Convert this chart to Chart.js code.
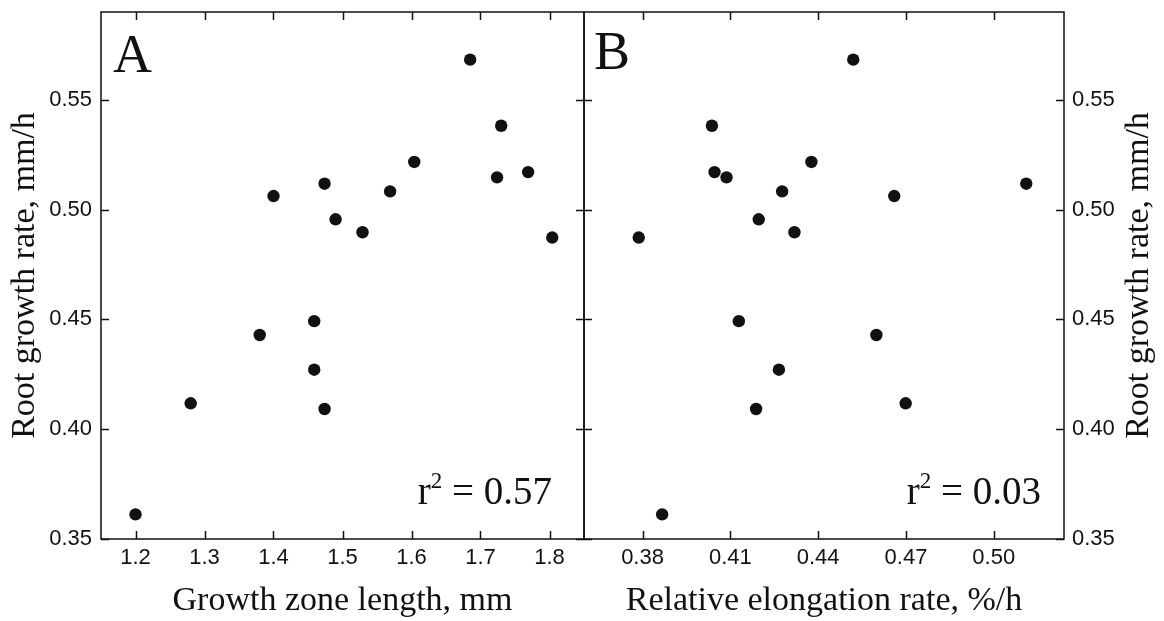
<!DOCTYPE html>
<html>
<head>
<meta charset="utf-8">
<script src="https://cdn.jsdelivr.net/npm/chart.js@4.4.1/dist/chart.umd.min.js"></script>
<style>
  html, body { margin: 0; padding: 0; background: #fff; }
  #wrap { position: relative; width: 1164px; height: 621px; overflow: hidden; }
  #chartA { position: absolute; left: 0; top: 0; }
  #chartB { position: absolute; left: 560px; top: 0; }
</style>
</head>
<body>
<div id="wrap">
  <canvas id="chartA" width="600" height="621"></canvas>
  <canvas id="chartB" width="604" height="621"></canvas>
</div>
<script>
// values, one entry per root (same order in every list)
const rootRate   = [0.5683, 0.5382, 0.5217, 0.5171, 0.5147, 0.5118, 0.5083, 0.5062, 0.4956, 0.4897, 0.4873, 0.4492, 0.4429, 0.4271, 0.4118, 0.4092, 0.3612];
const growthZone = [1.685, 1.730, 1.604, 1.769, 1.724, 1.474, 1.569, 1.400, 1.490, 1.529, 1.804, 1.459, 1.380, 1.459, 1.280, 1.474, 1.200];
const relElong   = [0.4520, 0.4037, 0.4377, 0.4046, 0.4087, 0.5111, 0.4277, 0.4660, 0.4197, 0.4319, 0.3787, 0.4129, 0.4599, 0.4266, 0.4699, 0.4188, 0.3867];

const yTicks  = [0.35, 0.40, 0.45, 0.50, 0.55];
const xTicksA = [1.2, 1.3, 1.4, 1.5, 1.6, 1.7, 1.8];
const xTicksB = [0.38, 0.41, 0.44, 0.47, 0.50];

const r2A = "0.57";
const r2B = "0.03";

const INK = "#111";
const SANS = "'Liberation Sans', Arial, sans-serif";
const SERIF = "'Liberation Serif', 'Times New Roman', serif";
const TICK = 8;

// box around the plot area, inward ticks on all sides, panel letter and r² note
const framePlugin = {
  id: "frame",
  afterDatasetsDraw(chart, args, opts) {
    const { ctx, chartArea: a, scales: { x, y } } = chart;
    ctx.save();
    ctx.strokeStyle = INK;
    ctx.lineWidth = 1.5;
    ctx.strokeRect(a.left, a.top, a.right - a.left, a.bottom - a.top);
    ctx.beginPath();
    x.ticks.forEach(t => {
      const px = Math.round(x.getPixelForValue(t.value)) + 0.5;
      ctx.moveTo(px, a.bottom); ctx.lineTo(px, a.bottom - TICK);
      ctx.moveTo(px, a.top); ctx.lineTo(px, a.top + TICK);
    });
    y.ticks.forEach(t => {
      const py = Math.round(y.getPixelForValue(t.value)) + 0.5;
      ctx.moveTo(a.left, py); ctx.lineTo(a.left + TICK, py);
      ctx.moveTo(a.right, py); ctx.lineTo(a.right - TICK, py);
    });
    ctx.stroke();

    ctx.fillStyle = INK;
    ctx.textBaseline = "alphabetic";
    ctx.textAlign = "left";
    ctx.font = `54px ${SERIF}`;
    ctx.fillText(opts.letter, a.left + opts.letterDx, a.top + opts.letterDy);

    // r² = value, right aligned
    const big = `39px ${SERIF}`, small = `23px ${SERIF}`;
    const rest = " = " + opts.r2;
    ctx.font = big;
    const wR = ctx.measureText("r").width;
    const wRest = ctx.measureText(rest).width;
    ctx.font = small;
    const w2 = ctx.measureText("2").width;
    const xEnd = a.right - opts.r2Dx;
    const base = a.bottom - 35;
    let xs = xEnd - wRest - w2 - wR;
    ctx.font = big;
    ctx.fillText("r", xs, base);
    ctx.font = small;
    ctx.fillText("2", xs + wR, base - 16);
    ctx.font = big;
    ctx.fillText(rest, xs + wR + w2, base);

    if (opts.sideTitle) {
      ctx.font = `34px ${SERIF}`;
      ctx.textAlign = "center";
      ctx.textBaseline = "middle";
      ctx.translate(a.right + opts.sideTitleDx, (a.top + a.bottom) / 2);
      ctx.rotate(-Math.PI / 2);
      ctx.fillText(opts.sideTitle, 0, 0);
    }
    ctx.restore();
  }
};

function points(xs) {
  return xs.map((v, i) => ({ x: v, y: rootRate[i] }));
}

function setTicks(list) {
  return scale => { scale.ticks = list.map(v => ({ value: v })); };
}

// fixed axis sizes so the plot boxes land where the figure has them
function fixHeight(h) {
  return s => { s.height = h; s.paddingLeft = 0; s.paddingRight = 0; };
}
function fixWidth(w) {
  return s => { s.width = w; s.paddingTop = 0; s.paddingBottom = 0; };
}

function baseOptions() {
  return {
    responsive: false,
    animation: false,
    events: [],
    plugins: { legend: { display: false }, tooltip: { enabled: false } },
  };
}

const tickFont = { family: SANS, size: 22 };
const titleFont = { family: SERIF, size: 34, lineHeight: 1.2 };

const optsA = baseOptions();
optsA.layout = { padding: { top: 12, right: 16, bottom: 0, left: 0 } };
optsA.plugins.frame = { letter: "A", letterDx: 12, letterDy: 60, r2: r2A, r2Dx: 32 };
optsA.scales = {
  x: {
    type: "linear", position: "bottom", min: 1.15, max: 1.85,
    afterBuildTicks: setTicks(xTicksA),
    afterFit: fixHeight(82),
    grid: { display: false, drawTicks: false },
    border: { display: false },
    ticks: { callback: v => v.toFixed(1), font: tickFont, color: INK, padding: 6, maxRotation: 0, autoSkip: false },
    title: { display: true, text: "Growth zone length, mm", font: titleFont, color: INK, padding: 0 },
  },
  y: {
    type: "linear", position: "left", min: 0.35, max: 0.59,
    afterBuildTicks: setTicks(yTicks),
    afterFit: fixWidth(101),
    grid: { display: false, drawTicks: false },
    border: { display: false },
    ticks: { callback: v => v.toFixed(2), font: tickFont, color: INK, padding: 9, autoSkip: false },
    title: { display: true, text: "Root growth rate, mm/h", font: titleFont, color: INK, padding: { top: 5, bottom: 0 } },
  },
};

const optsB = baseOptions();
optsB.layout = { padding: { top: 12, right: 0, bottom: 0, left: 24 } };
optsB.plugins.frame = { letter: "B", letterDx: 10, letterDy: 57, r2: r2B, r2Dx: 23, sideTitle: "Root growth rate, mm/h", sideTitleDx: 75 };
optsB.scales = {
  x: {
    type: "linear", position: "bottom", min: 0.36, max: 0.524,
    afterBuildTicks: setTicks(xTicksB),
    afterFit: fixHeight(82),
    grid: { display: false, drawTicks: false },
    border: { display: false },
    ticks: { callback: v => v.toFixed(2), font: tickFont, color: INK, padding: 6, maxRotation: 0, autoSkip: false },
    title: { display: true, text: "Relative elongation rate, %/h", font: titleFont, color: INK, padding: 0 },
  },
  y: {
    type: "linear", position: "right", min: 0.35, max: 0.59,
    afterBuildTicks: setTicks(yTicks),
    afterFit: fixWidth(100),
    grid: { display: false, drawTicks: false },
    border: { display: false },
    ticks: { callback: v => v.toFixed(2), font: tickFont, color: INK, padding: 8, autoSkip: false },
  },
};

const dotStyle = { backgroundColor: INK, borderColor: INK, borderWidth: 0, pointRadius: 6.2, pointHoverRadius: 6.2 };

new Chart(document.getElementById("chartA"), {
  type: "scatter",
  data: { datasets: [{ label: "A", data: points(growthZone), ...dotStyle }] },
  options: optsA,
  plugins: [framePlugin],
});

new Chart(document.getElementById("chartB"), {
  type: "scatter",
  data: { datasets: [{ label: "B", data: points(relElong), ...dotStyle }] },
  options: optsB,
  plugins: [framePlugin],
});
</script>
</body>
</html>
